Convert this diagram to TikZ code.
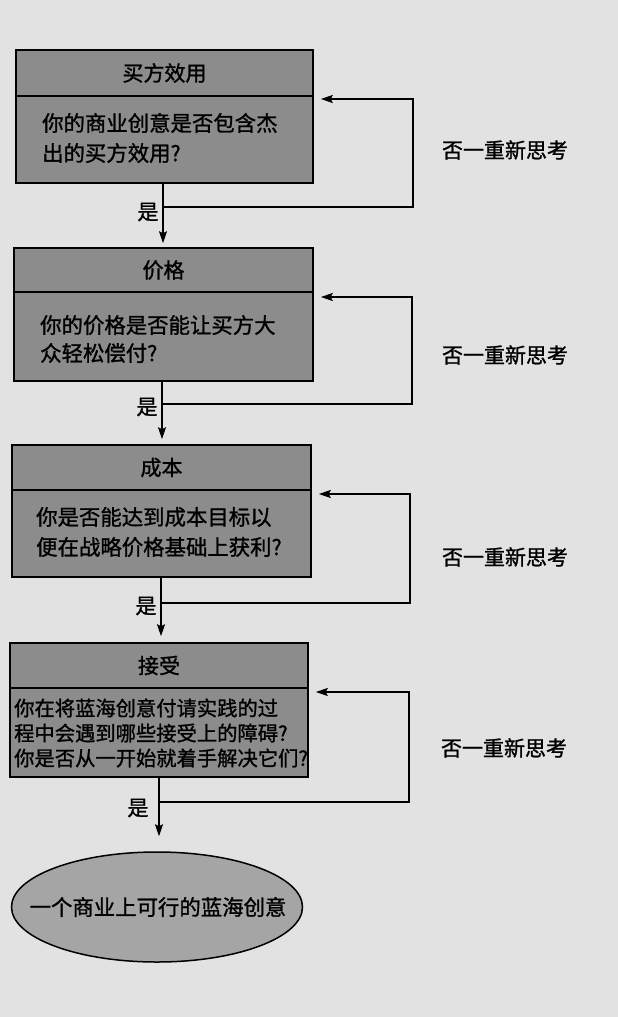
\documentclass[tikz,border=0pt]{standalone}
\usepackage{fontspec}
\newfontfamily\cjk{Noto Sans CJK SC}[FakeBold=1.2]
\usetikzlibrary{arrows.meta,shapes.geometric}
\definecolor{paper}{RGB}{226,226,226}
\definecolor{boxfill}{RGB}{140,140,140}
\definecolor{ovalfill}{RGB}{165,165,165}
\begin{document}
\begin{tikzpicture}[x=1pt,y=-1pt,
  panel/.style={draw=black, line width=1.6pt, fill=boxfill, inner sep=0pt},
  head/.style={panel, font=\cjk\fontsize{21}{21}\selectfont},
  qtext/.style={anchor=west, inner sep=0pt, align=left},
  flow/.style={draw=black, line width=1.4pt, -{Stealth[length=12pt,width=8pt,inset=2pt]}},
  back/.style={flow, shorten >=7pt},
  lab/.style={font=\cjk\fontsize{21}{21}\selectfont, inner sep=0pt},
]
% paper
\useasboundingbox (0,0) rectangle (618,1017);
\fill[paper] (0,0) rectangle (618,1017);

% stage 1: buyer utility
\node[head, minimum width=297pt, minimum height=46pt] (h1) at (164.5,73) {买方效用};
\node[panel, minimum width=297pt, minimum height=87pt] (q1) at (164.5,139.5) {};
\node[qtext, font=\cjk\fontsize{21.4}{30}\selectfont] (q1t) at (42,138) {你的商业创意是否包含杰\\出的买方效用?};

% stage 2: price
\node[head, minimum width=299pt, minimum height=44pt] (h2) at (163.5,270) {价格};
\node[panel, minimum width=299pt, minimum height=89pt] (q2) at (163.5,336.5) {};
\node[qtext, font=\cjk\fontsize{21.4}{28}\selectfont] (q2t) at (40,339) {你的价格是否能让买方大\\众轻松偿付?};

% stage 3: cost
\node[head, minimum width=299pt, minimum height=45pt] (h3) at (161.5,467.5) {成本};
\node[panel, minimum width=299pt, minimum height=87pt] (q3) at (161.5,533.5) {};
\node[qtext, font=\cjk\fontsize{21.4}{30}\selectfont] (q3t) at (36,532) {你是否能达到成本目标以\\便在战略价格基础上获利?};

% stage 4: adoption
\node[head, minimum width=298pt, minimum height=45pt] (h4) at (159,665.5) {接受};
\node[panel, minimum width=298pt, minimum height=89pt] (q4) at (159,732.5) {};
\node[qtext, font=\cjk\fontsize{20.3}{25}\selectfont] (q4t) at (14,733) {你在将蓝海创意付请实践的过\\程中会遇到哪些接受上的障碍?\\你是否从一开始就着手解决它们?};

% outcome
\node[ellipse, draw=black, line width=1.5pt, fill=ovalfill, minimum width=291pt, minimum height=110pt, inner sep=0pt] (end) at (157,907) {};
\node[font=\cjk\fontsize{21.4}{21.4}\selectfont, inner sep=0pt] (endt) at (158,907) {一个商业上可行的蓝海创意};

% junctions on the yes-path and corners of the return loops
\coordinate (v1) at (163,207);
\coordinate (v2) at (162,404);
\coordinate (v3) at (161,603);
\coordinate (v4) at (159,802);
\coordinate (r1) at (413,99);
\coordinate (r2) at (412,297);
\coordinate (r3) at (410,494);
\coordinate (r4) at (409,692);

% yes arrows
\draw[flow, shorten >=4pt] (v1 |- q1.south) -- (v1 |- h2.north);
\draw[flow, shorten >=5pt] (v2 |- q2.south) -- (v2 |- h3.north);
\draw[flow, shorten >=6pt] (v3 |- q3.south) -- (v3 |- h4.north);
\draw[flow, shorten >=15pt] (v4 |- q4.south) -- (v4 |- end.north);

% rethink loops
\draw[back] (v1) -| (r1) -- (r1 -| q1.east);
\draw[back] (v2) -| (r2) -- (r2 -| q2.east);
\draw[back] (v3) -| (r3) -- (r3 -| q3.east);
\draw[back] (v4) -| (r4) -- (r4 -| q4.east);

% labels
\node[lab] (y1) at (148,212) {是};
\node[lab] (y2) at (147,407) {是};
\node[lab] (y3) at (146,606) {是};
\node[lab] (y4) at (138,808) {是};
\node[lab] (n1) at (505,150) {否一重新思考};
\node[lab] (n2) at (505,355) {否一重新思考};
\node[lab] (n3) at (505,557) {否一重新思考};
\node[lab] (n4) at (504,748) {否一重新思考};
\end{tikzpicture}
\end{document}
